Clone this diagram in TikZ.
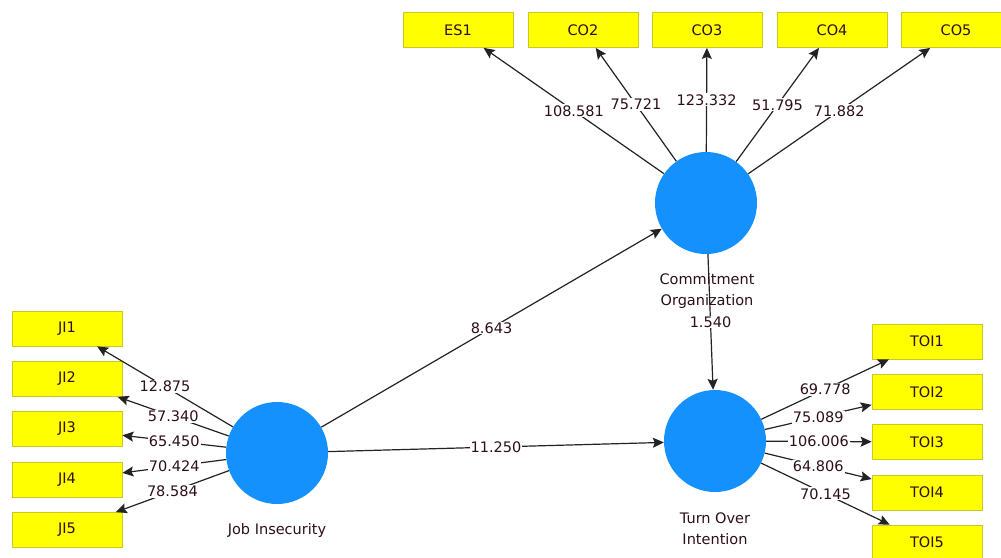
\documentclass[tikz,border=0pt]{standalone}
\usepackage{fontspec}
\setmainfont{DejaVu Sans}
\usetikzlibrary{arrows.meta}
\definecolor{lvblue}{RGB}{20,145,252}
\definecolor{mvyellow}{RGB}{255,255,0}
\definecolor{mvborder}{RGB}{200,200,40}
\definecolor{txt}{RGB}{45,15,25}
\definecolor{edgecol}{RGB}{35,35,35}
\begin{document}
\begin{tikzpicture}[x=1pt,y=-1pt,
  lv/.style={circle,fill=lvblue,minimum size=102pt,inner sep=0pt},
  mv/.style={rectangle,fill=mvyellow,draw=mvborder,line width=0.8pt,minimum width=110pt,minimum height=35pt,inner sep=0pt,font=\fontsize{14.5}{17}\selectfont,text=txt},
  arr/.style={draw=edgecol,line width=1.2pt,-{Stealth[length=11pt,width=10pt,inset=2pt]}},
  val/.style={fill=white,inner sep=1pt,font=\fontsize{14.5}{17}\selectfont,text=txt},
  lvlabel/.style={font=\fontsize{14.5}{21}\selectfont,text=txt,align=center}]
\useasboundingbox (0,0) rectangle (1001,557);
\clip (0,0) rectangle (1001,557);
\fill[white] (0,0) rectangle (1001,557);

% latent variables
\node[lv] (co) at (706,203) {};
\node[lv] (ji) at (277,453) {};
\node[lv] (toi) at (715,441) {};

% indicators
\node[mv] (es1) at (458,30) {ES1};
\node[mv] (co2) at (583,30) {CO2};
\node[mv] (co3) at (707,30) {CO3};
\node[mv] (co4) at (832,30) {CO4};
\node[mv] (co5) at (956,30) {CO5};

\node[mv] (ji1) at (67,328.5) {JI1};
\node[mv] (ji2) at (67,379) {JI2};
\node[mv] (ji3) at (67,429) {JI3};
\node[mv] (ji4) at (67,480) {JI4};
\node[mv] (ji5) at (67,530) {JI5};

\node[mv] (toi1) at (927,341.5) {TOI1};
\node[mv] (toi2) at (927,392) {TOI2};
\node[mv] (toi3) at (927,442) {TOI3};
\node[mv] (toi4) at (927,492.5) {TOI4};
\node[mv] (toi5) at (927,542.5) {TOI5};

% outer loadings
\draw[arr] (co) -- (es1) node[val,midway] {108.581};
\draw[arr] (co) -- (co2) node[val,midway] {75.721};
\draw[arr] (co) -- (co3) node[val,midway] {123.332};
\draw[arr] (co) -- (co4) node[val,midway] {51.795};
\draw[arr] (co) -- (co5) node[val,midway] {71.882};

\draw[arr] (ji) -- (ji1) node[val,midway] {12.875};
\draw[arr] (ji) -- (ji2) node[val,midway] {57.340};
\draw[arr] (ji) -- (ji3) node[val,midway] {65.450};
\draw[arr] (ji) -- (ji4) node[val,midway] {70.424};
\draw[arr] (ji) -- (ji5) node[val,midway] {78.584};

\draw[arr] (toi) -- (toi1) node[val,midway] {69.778};
\draw[arr] (toi) -- (toi2) node[val,midway] {75.089};
\draw[arr] (toi) -- (toi3) node[val,midway] {106.006};
\draw[arr] (toi) -- (toi4) node[val,midway] {64.806};
\draw[arr] (toi) -- (toi5) node[val,midway] {70.145};

% structural paths
\draw[arr] (ji) -- (co) node[val,midway] {8.643};
\draw[arr] (ji) -- (toi) node[val,midway] {11.250};
\draw[arr] (co) -- (toi) node[val,midway] {1.540};

% latent labels
\node[lvlabel] (colab) at (707,291) {Commitment\\Organization};
\node[lvlabel] (jilab) at (277,530) {Job Insecurity};
\node[lvlabel] (toilab) at (715,529) {Turn Over\\Intention};
\end{tikzpicture}
\end{document}
